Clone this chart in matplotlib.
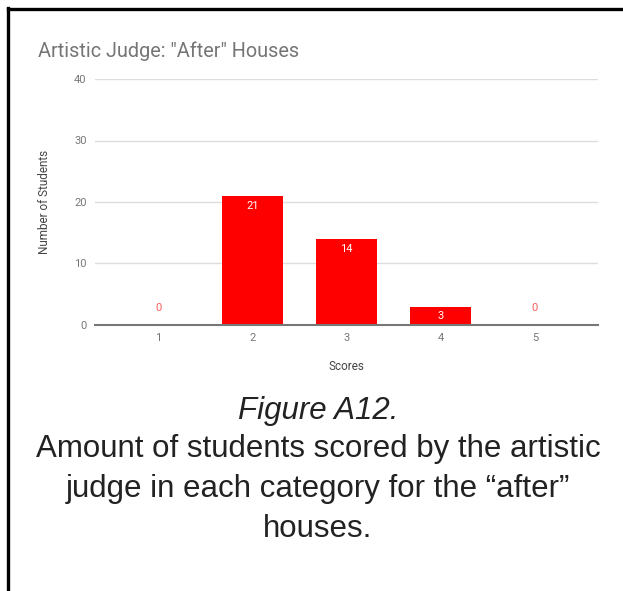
import matplotlib.pyplot as plt
import numpy as np

scores = ['1', '2', '3', '4', '5']
students = [0, 21, 14, 3, 0]
y_ticks = [0, 10, 20, 30, 40]

title = 'Artistic Judge: "After" Houses'
caption_head = 'Figure A12.'
caption_body = ('Amount of students scored by the artistic\n'
                'judge in each category for the \u201cafter\u201d\n'
                'houses.')

W, H = 623, 591
fig = plt.figure(figsize=(W / 100, H / 100), dpi=100)

ax = fig.add_axes([95 / W, 1 - 325 / H, (598 - 95) / W, (325 - 79) / H])
x = np.arange(1, len(scores) + 1)
bars = ax.bar(x, students, width=0.65, color='#ff0000', zorder=3)

for xi, v in zip(x, students):
    if v > 0:
        ax.text(xi, v - 0.8, str(v), ha='center', va='top', color='white',
                fontsize=8, family='Roboto', zorder=4)
    else:
        ax.text(xi, 1.9, str(v), ha='center', va='bottom', color='#ff5c5c',
                fontsize=8, family='Roboto', zorder=4)

ax.set_xlim(0.33, 5.67)
ax.set_ylim(0, 40)
ax.set_xticks(x)
ax.set_xticklabels(scores)
ax.set_yticks(y_ticks)
ax.tick_params(length=0, labelsize=8, labelcolor='#777777', pad=6)
for lab in ax.get_xticklabels() + ax.get_yticklabels():
    lab.set_family('Roboto')
ax.grid(axis='y', color='#dddddd', linewidth=1, zorder=0)
for s in ['top', 'right', 'left']:
    ax.spines[s].set_visible(False)
ax.spines['bottom'].set_color('#777777')
ax.spines['bottom'].set_linewidth(1.5)
ax.spines['bottom'].set_zorder(5)

ax.set_xlabel('Scores', fontsize=8.5, color='#444444', family='Roboto', labelpad=12)
ax.set_ylabel('Number of Students', fontsize=8.5, color='#444444', family='Roboto', labelpad=17)

fig.text(38 / W, 1 - 51 / H, title, fontsize=14.3, color='#757575',
         family='Roboto', va='center', ha='left')

fig.text(318 / W, 1 - 411 / H, caption_head, fontsize=22.5, style='italic',
         color='#222222', family='Liberation Sans', ha='center', va='center')
fig.text(318 / W, 1 - 489 / H, caption_body, fontsize=22.5, color='#222222',
         family='Liberation Sans', ha='center', va='center', linespacing=1.42)

# page border: top and left edge only
fig.add_artist(plt.Line2D([7.5 / W, 1], [1 - 8.5 / H, 1 - 8.5 / H],
                          color='black', linewidth=2.4, transform=fig.transFigure))
fig.add_artist(plt.Line2D([7.5 / W, 7.5 / W], [0, 1 - 7.5 / H],
                          color='black', linewidth=2.4, transform=fig.transFigure))

fig.savefig('out.png', dpi=100)
